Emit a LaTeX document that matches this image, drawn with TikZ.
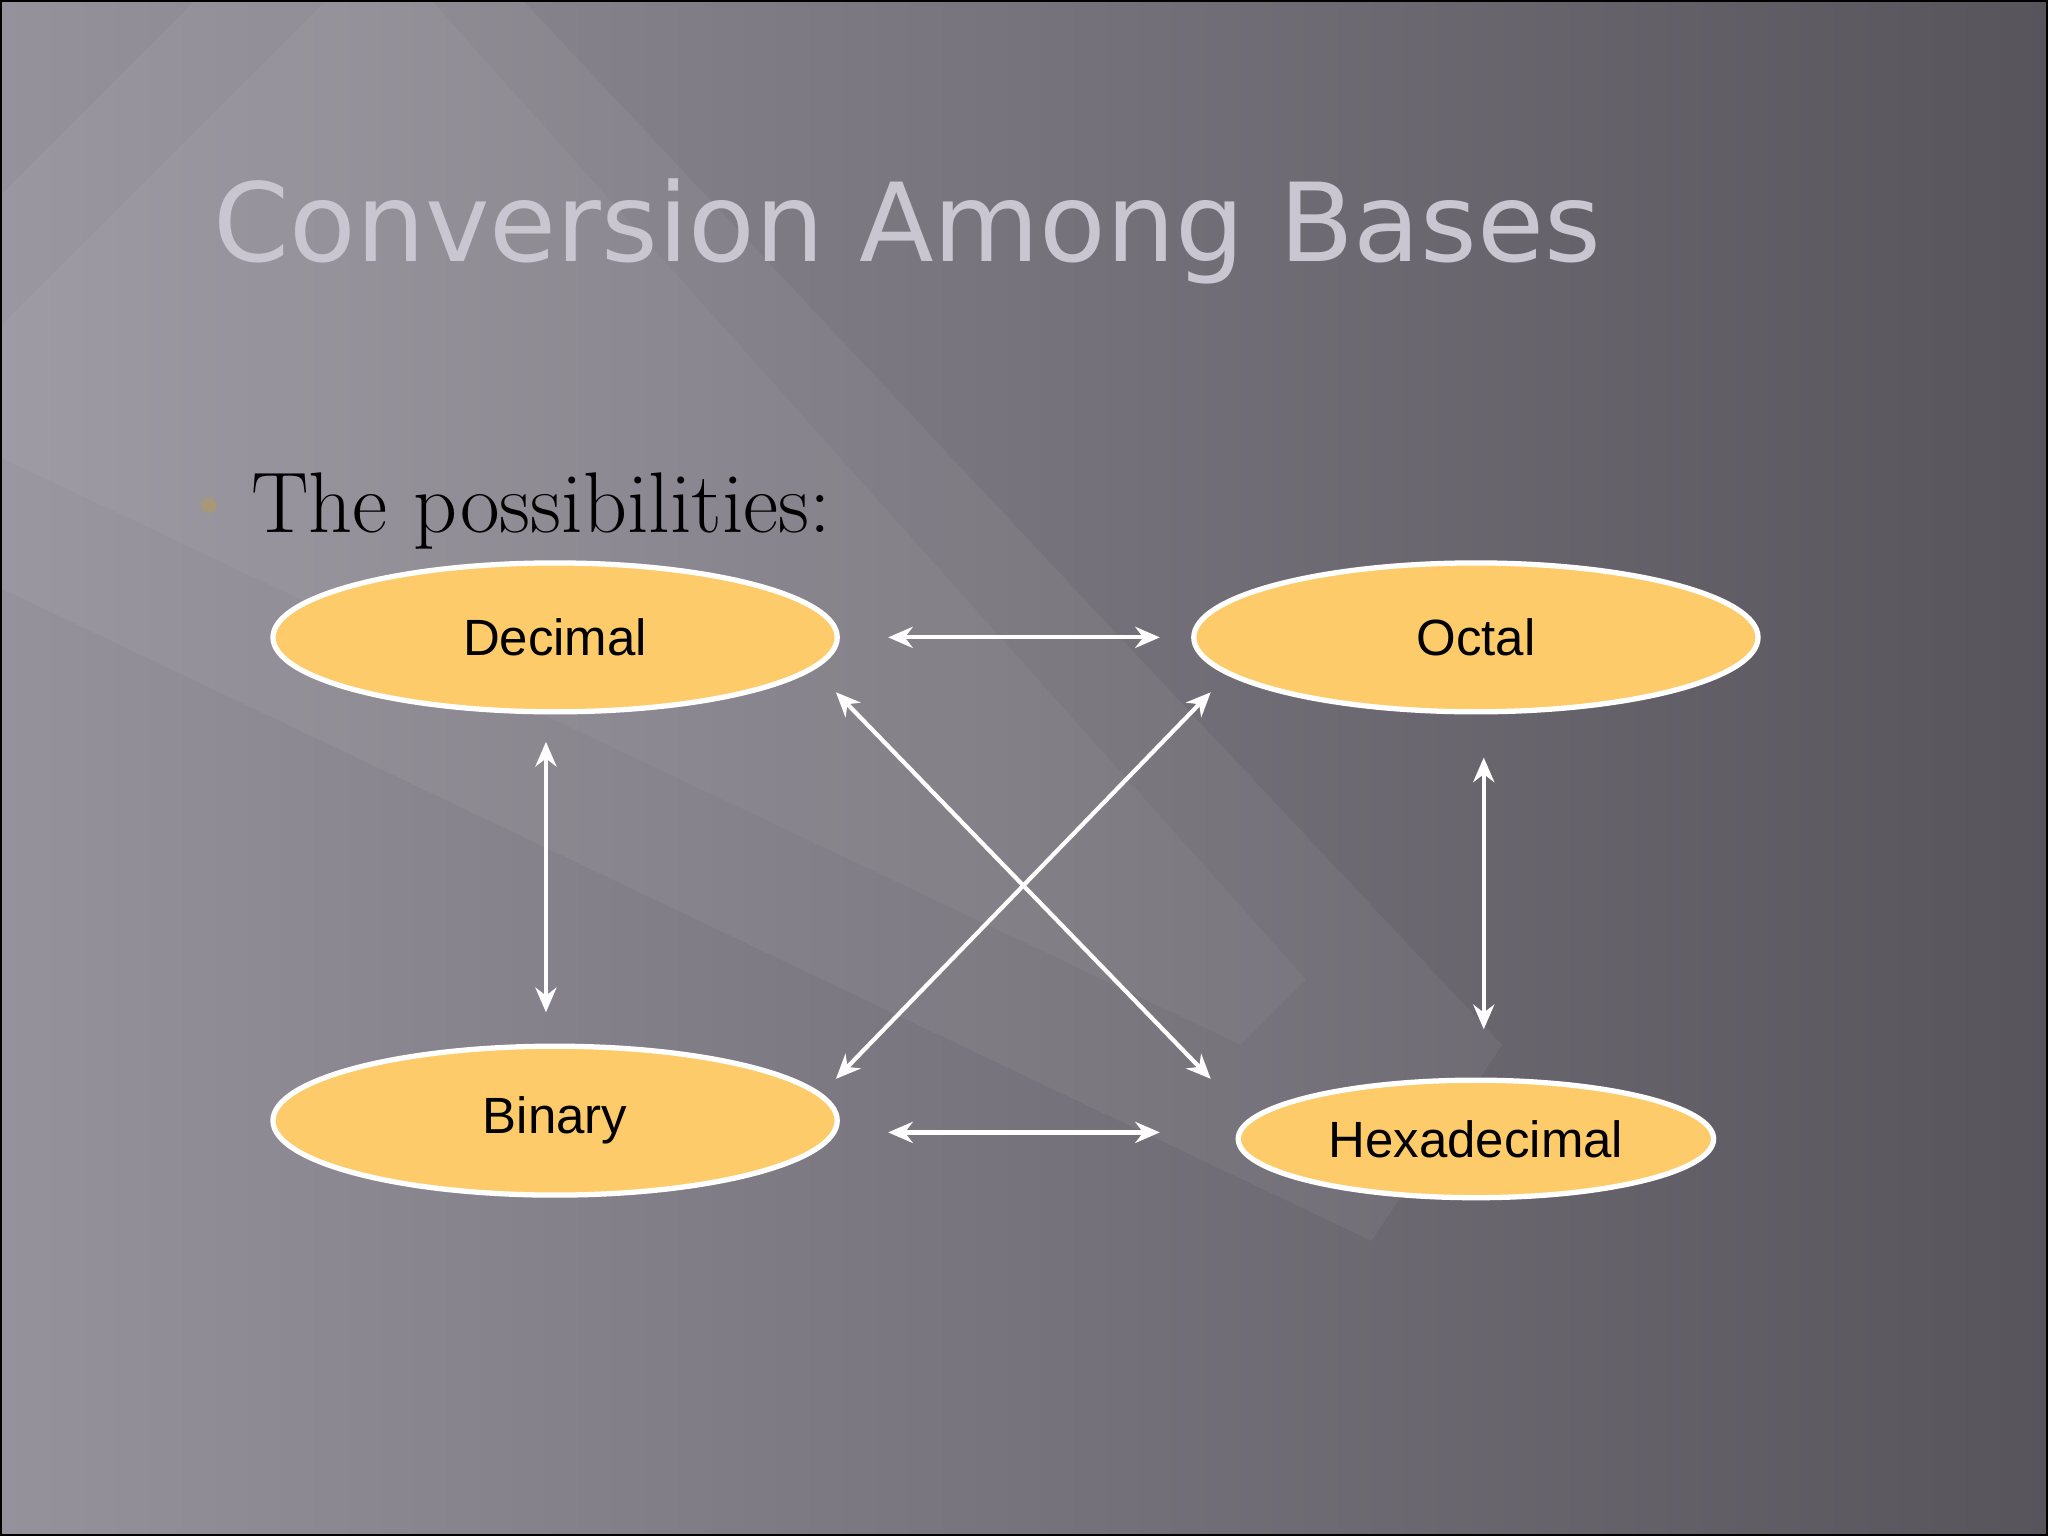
\documentclass[tikz,border=0pt]{standalone}
\usepackage{fontspec}
\setsansfont{DejaVu Sans}
\newfontfamily\arialf{Liberation Sans}
\usetikzlibrary{shapes.geometric,arrows.meta}
\definecolor{ovfill}{HTML}{FECB6A}
\definecolor{titlec}{HTML}{C9C5D1}
\definecolor{bulc}{HTML}{A89878}
\tikzset{
  ov/.style={ellipse,fill=ovfill,draw=white,line width=1.5pt,inner sep=0pt,font=\arialf\fontsize{14.5}{17}\selectfont},
  arr/.style={draw=white,line width=1.2pt,{Stealth[length=7pt,width=6pt]}-{Stealth[length=7pt,width=6pt]}}
}
\begin{document}
\begin{tikzpicture}[x=0.01306cm,y=-0.01306cm]
\useasboundingbox (0,0) rectangle (1568,1176);
\shade[left color={rgb,255:red,150;green,146;blue,156}, right color={rgb,255:red,88;green,84;blue,92}] (0,0) rectangle (1568,1176);
\fill[white,opacity=0.05] (0,150) -- (150,0) -- (400,0) -- (1150,800) -- (1050,950) -- (0,450) -- cycle;
\fill[white,opacity=0.04] (0,250) -- (250,0) -- (330,0) -- (1000,750) -- (950,800) -- (0,350) -- cycle;
\draw[black,line width=1pt] (0,0) rectangle (1568,1176);
\node[anchor=base west,text=titlec,inner sep=0pt,font=\sffamily\fontsize{31}{35}\selectfont] (title) at (163,200) {Conversion Among Bases};
\fill[bulc] (160,387) circle (6);
\node[anchor=base west,inner sep=0pt,font=\fontsize{24.5}{28}\selectfont] (poss) at (192,408) {The possibilities:};
\node[ov,minimum width=432*0.01306cm,minimum height=114*0.01306cm] (dec) at (425,488) {Decimal};
\node[ov,minimum width=432*0.01306cm,minimum height=114*0.01306cm] (oct) at (1130,488) {Octal};
\node[ov,minimum width=432*0.01306cm,minimum height=114*0.01306cm] (bin) at (425,858) {Binary};
\node[ov,minimum width=364*0.01306cm,minimum height=90*0.01306cm] (hex) at (1130,872) {Hexadecimal};
\coordinate (a1) at (680,488); \coordinate (a2) at (888,488);
\coordinate (b1) at (680,867); \coordinate (b2) at (888,867);
\coordinate (c1) at (418,568); \coordinate (c2) at (418,775);
\coordinate (d1) at (1136,580); \coordinate (d2) at (1136,788);
\coordinate (e1) at (640,530); \coordinate (e2) at (927,826);
\coordinate (f1) at (927,530); \coordinate (f2) at (640,826);
\draw[arr] (a1) -- (a2);
\draw[arr] (b1) -- (b2);
\draw[arr] (c1) -- (c2);
\draw[arr] (d1) -- (d2);
\draw[arr] (e1) -- (e2);
\draw[arr] (f1) -- (f2);
\end{tikzpicture}
\end{document}
